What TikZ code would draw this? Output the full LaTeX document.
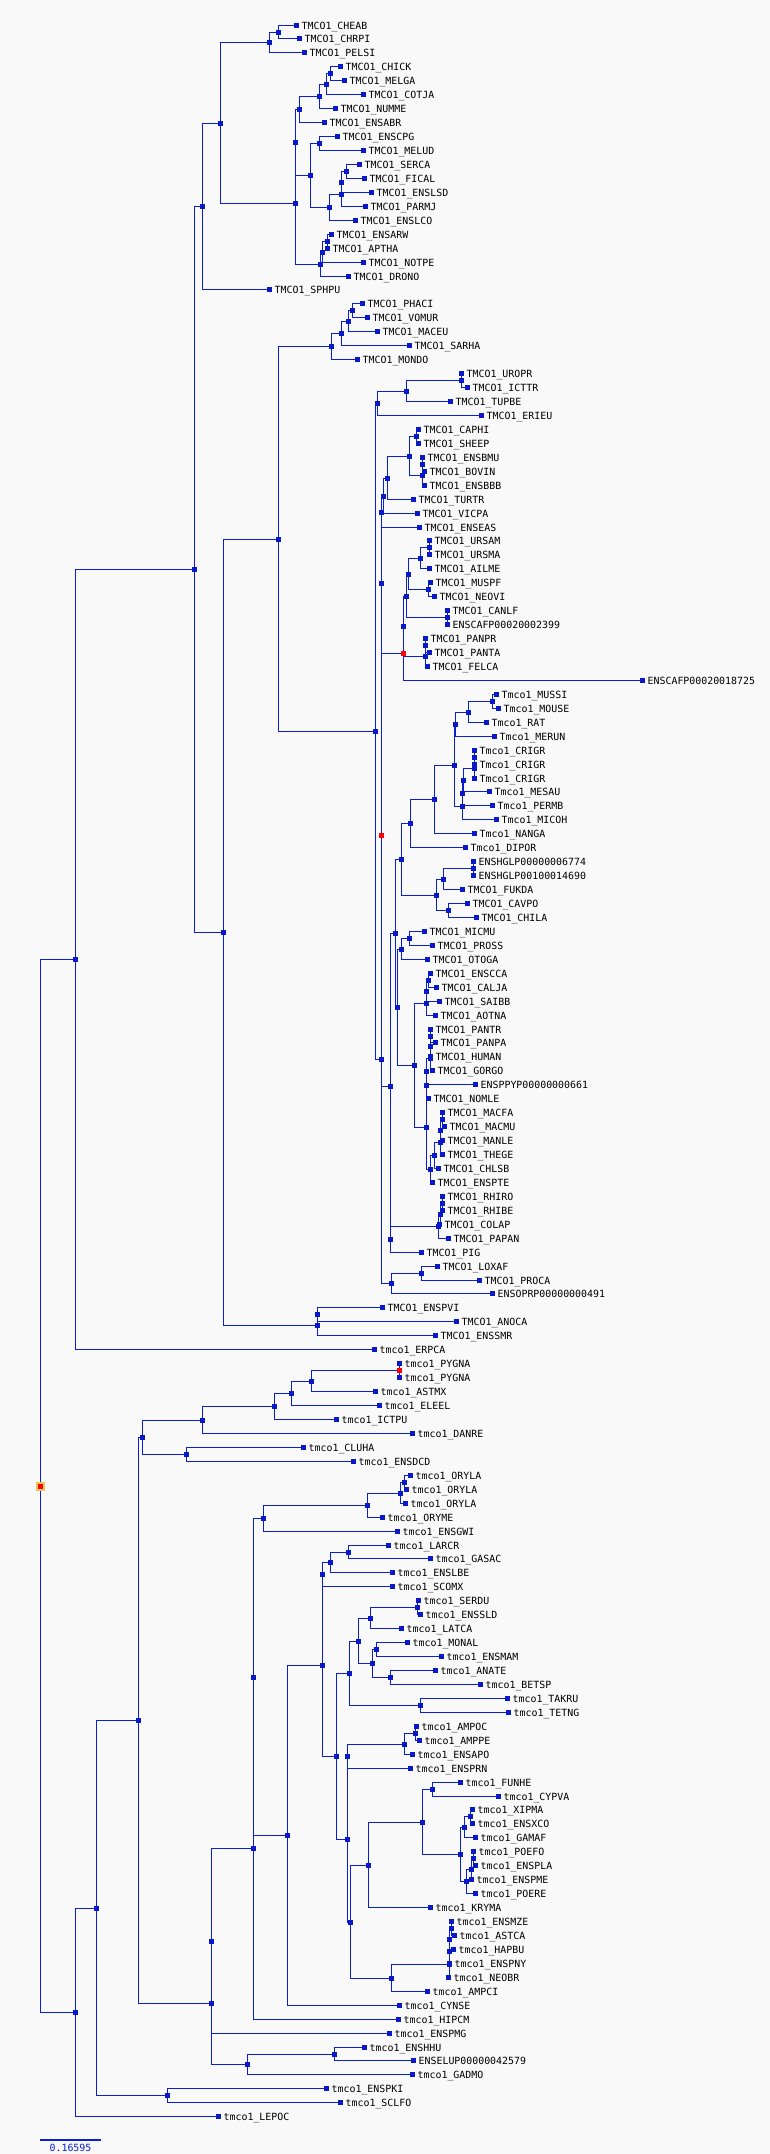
\documentclass[tikz,border=0pt]{standalone}
\usepackage{fontspec}
\newfontfamily\labfont{DejaVu Sans Mono}
\usetikzlibrary{calc}
\definecolor{bg}{RGB}{249,249,249}
\definecolor{edgec}{RGB}{10,30,210}
\definecolor{sqc}{RGB}{10,25,200}
\definecolor{rootedge}{RGB}{238,198,90}
\tikzset{
  edge/.style={draw=edgec, line width=1pt},
  sq/.style={rectangle, fill=sqc, draw=none, minimum width=5pt, minimum height=5pt, inner sep=0pt, outer sep=0pt},
  redsq/.style={rectangle, fill=red, draw=none, minimum width=5pt, minimum height=5pt, inner sep=0pt, outer sep=0pt},
  rootsq/.style={rectangle, fill=red, draw=rootedge, line width=2pt, minimum width=7pt, minimum height=7pt, inner sep=0pt, outer sep=0pt},
  lab/.style={anchor=base west, xshift=5pt, yshift=-3.7pt, inner sep=0pt, font=\labfont\fontsize{9.9}{10}\selectfont, text=black}
}
\newcommand\mkleaf[4]{%
  \coordinate (#1) at ({floor(#3)+0.5},{floor(25+(#2-1)*13.945)+0.5});
  \node[lab] at (#1) {#4};
}
\newcommand\mknode[4]{%
  \path let \p1=($(#3)!0.5!(#4)$) in \pgfextra{\pgfmathsetmacro\tmpy{floor(abs(\y1))+0.5}\xdef\gtmpy{\tmpy}};
  \pgfmathsetmacro\tmpx{floor(#2)+0.5}%
  \coordinate (#1) at (\tmpx,\gtmpy);
  \draw[edge] (#1) |- (#3) (#1) |- (#4);
}
\begin{document}
\begin{tikzpicture}[x=1pt,y=-1pt]
\fill[bg] (0,0) rectangle (770,2154);
\useasboundingbox (0,0) rectangle (770,2154);
% leaves
\mkleaf{l1}{1}{296.7}{TMCO1\_CHEAB}
\mkleaf{l2}{2}{299.6}{TMCO1\_CHRPI}
\mkleaf{l3}{3}{304.5}{TMCO1\_PELSI}
\mkleaf{l4}{4}{340.4}{TMCO1\_CHICK}
\mkleaf{l5}{5}{344.3}{TMCO1\_MELGA}
\mkleaf{l6}{6}{363.4}{TMCO1\_COTJA}
\mkleaf{l7}{7}{335.5}{TMCO1\_NUMME}
\mkleaf{l8}{8}{324.2}{TMCO1\_ENSABR}
\mkleaf{l9}{9}{337.4}{TMCO1\_ENSCPG}
\mkleaf{l10}{10}{363.9}{TMCO1\_MELUD}
\mkleaf{l11}{11}{359.5}{TMCO1\_SERCA}
\mkleaf{l12}{12}{364.4}{TMCO1\_FICAL}
\mkleaf{l13}{13}{371.8}{TMCO1\_ENSLSD}
\mkleaf{l14}{14}{365.9}{TMCO1\_PARMJ}
\mkleaf{l15}{15}{355.6}{TMCO1\_ENSLCO}
\mkleaf{l16}{16}{331.5}{TMCO1\_ENSARW}
\mkleaf{l17}{17}{327.6}{TMCO1\_APTHA}
\mkleaf{l18}{18}{363.4}{TMCO1\_NOTPE}
\mkleaf{l19}{19}{348.7}{TMCO1\_DRONO}
\mkleaf{l20}{20}{269.2}{TMCO1\_SPHPU}
\mkleaf{l21}{21}{362.5}{TMCO1\_PHACI}
\mkleaf{l22}{22}{367.4}{TMCO1\_VOMUR}
\mkleaf{l23}{23}{377.2}{TMCO1\_MACEU}
\mkleaf{l24}{24}{409.6}{TMCO1\_SARHA}
\mkleaf{l25}{25}{357.1}{TMCO1\_MONDO}
\mkleaf{l26}{26}{461.7}{TMCO1\_UROPR}
\mkleaf{l27}{27}{467.6}{TMCO1\_ICTTR}
\mkleaf{l28}{28}{450.4}{TMCO1\_TUPBE}
\mkleaf{l29}{29}{481.3}{TMCO1\_ERIEU}
\mkleaf{l30}{30}{418.5}{TMCO1\_CAPHI}
\mkleaf{l31}{31}{418.5}{TMCO1\_SHEEP}
\mkleaf{l32}{32}{422.4}{TMCO1\_ENSBMU}
\mkleaf{l33}{33}{424.9}{TMCO1\_BOVIN}
\mkleaf{l34}{34}{424.9}{TMCO1\_ENSBBB}
\mkleaf{l35}{35}{413.6}{TMCO1\_TURTR}
\mkleaf{l36}{36}{417.5}{TMCO1\_VICPA}
\mkleaf{l37}{37}{419.0}{TMCO1\_ENSEAS}
\mkleaf{l38}{38}{429.8}{TMCO1\_URSAM}
\mkleaf{l39}{39}{429.8}{TMCO1\_URSMA}
\mkleaf{l40}{40}{429.8}{TMCO1\_AILME}
\mkleaf{l41}{41}{430.7}{TMCO1\_MUSPF}
\mkleaf{l42}{42}{434.2}{TMCO1\_NEOVI}
\mkleaf{l43}{43}{447.0}{TMCO1\_CANLF}
\mkleaf{l44}{44}{447.0}{ENSCAFP00020002399}
\mkleaf{l45}{45}{425.3}{TMCO1\_PANPR}
\mkleaf{l46}{46}{429.8}{TMCO1\_PANTA}
\mkleaf{l47}{47}{427.3}{TMCO1\_FELCA}
\mkleaf{l48}{48}{642.4}{ENSCAFP00020018725}
\mkleaf{l49}{49}{496.0}{Tmco1\_MUSSI}
\mkleaf{l50}{50}{498.5}{Tmco1\_MOUSE}
\mkleaf{l51}{51}{486.2}{Tmco1\_RAT}
\mkleaf{l52}{52}{494.6}{Tmco1\_MERUN}
\mkleaf{l53}{53}{474.0}{Tmco1\_CRIGR}
\mkleaf{l54}{54}{474.5}{Tmco1\_CRIGR}
\mkleaf{l55}{55}{474.0}{Tmco1\_CRIGR}
\mkleaf{l56}{56}{489.7}{Tmco1\_MESAU}
\mkleaf{l57}{57}{492.6}{Tmco1\_PERMB}
\mkleaf{l58}{58}{496.6}{Tmco1\_MICOH}
\mkleaf{l59}{59}{474.0}{Tmco1\_NANGA}
\mkleaf{l60}{60}{465.6}{Tmco1\_DIPOR}
\mkleaf{l61}{61}{473.5}{ENSHGLP00000006774}
\mkleaf{l62}{62}{473.5}{ENSHGLP00100014690}
\mkleaf{l63}{63}{462.2}{TMCO1\_FUKDA}
\mkleaf{l64}{64}{467.1}{TMCO1\_CAVPO}
\mkleaf{l65}{65}{476.0}{TMCO1\_CHILA}
\mkleaf{l66}{66}{424.4}{TMCO1\_MICMU}
\mkleaf{l67}{67}{432.2}{TMCO1\_PROSS}
\mkleaf{l68}{68}{427.3}{TMCO1\_OTOGA}
\mkleaf{l69}{69}{430.7}{TMCO1\_ENSCCA}
\mkleaf{l70}{70}{436.6}{TMCO1\_CALJA}
\mkleaf{l71}{71}{439.6}{TMCO1\_SAIBB}
\mkleaf{l72}{72}{435.7}{TMCO1\_AOTNA}
\mkleaf{l73}{73}{430.7}{TMCO1\_PANTR}
\mkleaf{l74}{74}{435.2}{TMCO1\_PANPA}
\mkleaf{l75}{75}{430.7}{TMCO1\_HUMAN}
\mkleaf{l76}{76}{432.2}{TMCO1\_GORGO}
\mkleaf{l77}{77}{475.0}{ENSPPYP00000000661}
\mkleaf{l78}{78}{428.3}{TMCO1\_NOMLE}
\mkleaf{l79}{79}{442.0}{TMCO1\_MACFA}
\mkleaf{l80}{80}{444.5}{TMCO1\_MACMU}
\mkleaf{l81}{81}{442.0}{TMCO1\_MANLE}
\mkleaf{l82}{82}{442.0}{TMCO1\_THEGE}
\mkleaf{l83}{83}{438.1}{TMCO1\_CHLSB}
\mkleaf{l84}{84}{432.2}{TMCO1\_ENSPTE}
\mkleaf{l85}{85}{442.5}{TMCO1\_RHIRO}
\mkleaf{l86}{86}{442.5}{TMCO1\_RHIBE}
\mkleaf{l87}{87}{439.6}{TMCO1\_COLAP}
\mkleaf{l88}{88}{448.0}{TMCO1\_PAPAN}
\mkleaf{l89}{89}{421.4}{TMCO1\_PIG}
\mkleaf{l90}{90}{437.1}{TMCO1\_LOXAF}
\mkleaf{l91}{91}{479.4}{TMCO1\_PROCA}
\mkleaf{l92}{92}{492.6}{ENSOPRP00000000491}
\mkleaf{l93}{93}{382.6}{TMCO1\_ENSPVI}
\mkleaf{l94}{94}{456.8}{TMCO1\_ANOCA}
\mkleaf{l95}{95}{435.7}{TMCO1\_ENSSMR}
\mkleaf{l96}{96}{374.3}{tmco1\_ERPCA}
\mkleaf{l97}{97}{399.3}{tmco1\_PYGNA}
\mkleaf{l98}{98}{399.3}{tmco1\_PYGNA}
\mkleaf{l99}{99}{375.7}{tmco1\_ASTMX}
\mkleaf{l100}{100}{379.7}{tmco1\_ELEEL}
\mkleaf{l101}{101}{336.4}{tmco1\_ICTPU}
\mkleaf{l102}{102}{412.6}{tmco1\_DANRE}
\mkleaf{l103}{103}{303.5}{tmco1\_CLUHA}
\mkleaf{l104}{104}{353.6}{tmco1\_ENSDCD}
\mkleaf{l105}{105}{410.6}{tmco1\_ORYLA}
\mkleaf{l106}{106}{406.7}{tmco1\_ORYLA}
\mkleaf{l107}{107}{405.2}{tmco1\_ORYLA}
\mkleaf{l108}{108}{382.6}{tmco1\_ORYME}
\mkleaf{l109}{109}{397.3}{tmco1\_ENSGWI}
\mkleaf{l110}{110}{388.5}{tmco1\_LARCR}
\mkleaf{l111}{111}{430.7}{tmco1\_GASAC}
\mkleaf{l112}{112}{392.9}{tmco1\_ENSLBE}
\mkleaf{l113}{113}{392.0}{tmco1\_SCOMX}
\mkleaf{l114}{114}{418.5}{tmco1\_SERDU}
\mkleaf{l115}{115}{420.9}{tmco1\_ENSSLD}
\mkleaf{l116}{116}{401.8}{tmco1\_LATCA}
\mkleaf{l117}{117}{407.7}{tmco1\_MONAL}
\mkleaf{l118}{118}{441.5}{tmco1\_ENSMAM}
\mkleaf{l119}{119}{435.7}{tmco1\_ANATE}
\mkleaf{l120}{120}{480.8}{tmco1\_BETSP}
\mkleaf{l121}{121}{507.4}{tmco1\_TAKRU}
\mkleaf{l122}{122}{508.8}{tmco1\_TETNG}
\mkleaf{l123}{123}{416.5}{tmco1\_AMPOC}
\mkleaf{l124}{124}{419.0}{tmco1\_AMPPE}
\mkleaf{l125}{125}{412.6}{tmco1\_ENSAPO}
\mkleaf{l126}{126}{410.6}{tmco1\_ENSPRN}
\mkleaf{l127}{127}{460.7}{tmco1\_FUNHE}
\mkleaf{l128}{128}{498.0}{tmco1\_CYPVA}
\mkleaf{l129}{129}{472.5}{tmco1\_XIPMA}
\mkleaf{l130}{130}{472.5}{tmco1\_ENSXCO}
\mkleaf{l131}{131}{475.4}{tmco1\_GAMAF}
\mkleaf{l132}{132}{473.5}{tmco1\_POEFO}
\mkleaf{l133}{133}{475.4}{tmco1\_ENSPLA}
\mkleaf{l134}{134}{471.5}{tmco1\_ENSPME}
\mkleaf{l135}{135}{475.4}{tmco1\_POERE}
\mkleaf{l136}{136}{430.7}{tmco1\_KRYMA}
\mkleaf{l137}{137}{451.4}{tmco1\_ENSMZE}
\mkleaf{l138}{138}{454.3}{tmco1\_ASTCA}
\mkleaf{l139}{139}{453.3}{tmco1\_HAPBU}
\mkleaf{l140}{140}{449.4}{tmco1\_ENSPNY}
\mkleaf{l141}{141}{448.4}{tmco1\_NEOBR}
\mkleaf{l142}{142}{427.8}{tmco1\_AMPCI}
\mkleaf{l143}{143}{399.3}{tmco1\_CYNSE}
\mkleaf{l144}{144}{398.3}{tmco1\_HIPCM}
\mkleaf{l145}{145}{389.5}{tmco1\_ENSPMG}
\mkleaf{l146}{146}{364.4}{tmco1\_ENSHHU}
\mkleaf{l147}{147}{413.6}{ENSELUP00000042579}
\mkleaf{l148}{148}{412.6}{tmco1\_GADMO}
\mkleaf{l149}{149}{326.6}{tmco1\_ENSPKI}
\mkleaf{l150}{150}{340.4}{tmco1\_SCLFO}
\mkleaf{l151}{151}{218.1}{tmco1\_LEPOC}
% internal nodes: birds
\mknode{n1}{278.5}{l1}{l2}
\mknode{n2}{269.2}{n1}{l3}
\mknode{n3}{330.0}{l4}{l5}
\mknode{n4}{326.6}{n3}{l6}
\mknode{n5}{319.7}{n4}{l7}
\mknode{n6}{299.6}{n5}{l8}
\mknode{n7}{319.7}{l9}{l10}
\mknode{n8}{346.8}{l11}{l12}
\mknode{n9}{341.3}{n8}{l13}
\mknode{n10}{341.3}{n9}{l14}
\mknode{n11}{329.1}{n10}{l15}
\mknode{n12}{310.9}{n7}{n11}
\mknode{n13}{295.2}{n6}{n12}
\mknode{n14}{327.6}{l16}{l17}
\mknode{n15}{322.7}{n14}{l18}
\mknode{n16}{320.2}{n15}{l19}
\mknode{n17}{295.2}{n13}{n16}
\mknode{n18}{220.5}{n2}{n17}
\mknode{n19}{202.4}{n18}{l20}
% marsupials
\mknode{n20}{352.2}{l21}{l22}
\mknode{n21}{348.2}{n20}{l23}
\mknode{n22}{341.3}{n21}{l24}
\mknode{n23}{331.5}{n22}{l25}
% placentals
\mknode{n24}{461.7}{l26}{l27}
\mknode{n25}{406.7}{n24}{l28}
\mknode{n26}{377.2}{n25}{l29}
\mknode{n27}{416.5}{l30}{l31}
\mknode{n28}{422.4}{l32}{l33}
\mknode{n29}{422.4}{n28}{l34}
\mknode{n30}{409.6}{n27}{n29}
\mknode{n31}{387.5}{n30}{l35}
\mknode{n32}{383.6}{n31}{l36}
\mknode{n33}{381.6}{n32}{l37}
\mknode{n34}{429.8}{l38}{l39}
\mknode{n35}{420.9}{n34}{l40}
\mknode{n36}{428.3}{l41}{l42}
\mknode{n37}{408.6}{n35}{n36}
\mknode{n38}{447.0}{l43}{l44}
\mknode{n39}{406.2}{n37}{n38}
\mknode{n40}{425.3}{l45}{l46}
\mknode{n41}{425.3}{n40}{l47}
\mknode{n42}{403.7}{n39}{n41}
\mknode{n43}{403.7}{n42}{l48}
\mknode{n44}{381.6}{n33}{n43}
% rodents
\mknode{n45}{492.6}{l49}{l50}
\mknode{n46}{468.1}{n45}{l51}
\mknode{n47}{455.3}{n46}{l52}
\mknode{n48}{474.0}{l53}{l54}
\mknode{n49}{474.0}{n48}{l55}
\mknode{n50}{463.7}{n49}{l56}
\mknode{n51}{462.7}{n50}{l57}
\mknode{n52}{462.7}{n51}{l58}
\mknode{n53}{454.3}{n47}{n52}
\mknode{n54}{434.7}{n53}{l59}
\mknode{n55}{410.6}{n54}{l60}
\mknode{n56}{473.5}{l61}{l62}
\mknode{n57}{443.5}{n56}{l63}
\mknode{n58}{448.4}{l64}{l65}
\mknode{n59}{436.6}{n57}{n58}
\mknode{n60}{401.8}{n55}{n59}
% primates
\mknode{n61}{409.1}{l66}{l67}
\mknode{n62}{401.3}{n61}{l68}
\mknode{n63}{428.3}{l69}{l70}
\mknode{n64}{426.3}{n63}{l71}
\mknode{n65}{426.3}{n64}{l72}
\mknode{n66}{430.7}{l73}{l74}
\mknode{n67}{430.7}{n66}{l75}
\mknode{n68}{430.7}{n67}{l76}
\mknode{n69}{426.3}{n68}{l77}
\mknode{n70}{426.3}{n69}{l78}
\mknode{n71}{442.0}{l79}{l80}
\mknode{n72}{440.1}{n71}{l81}
\mknode{n73}{440.6}{n72}{l82}
\mknode{n74}{434.2}{n73}{l83}
\mknode{n75}{430.3}{n74}{l84}
\mknode{n76}{426.3}{n70}{n75}
\mknode{n77}{414.0}{n65}{n76}
\mknode{n78}{397.8}{n62}{n77}
\mknode{n79}{395.9}{n60}{n78}
\mknode{n80}{442.5}{l85}{l86}
\mknode{n81}{440.6}{n80}{l87}
\mknode{n82}{438.6}{n81}{l88}
\mknode{n83}{390.0}{n82}{l89}
\mknode{n84}{390.0}{n79}{n83}
\mknode{n85}{381.6}{n44}{n84}
\mknode{n86}{421.4}{l90}{l91}
\mknode{n87}{391.5}{n86}{l92}
\mknode{n88}{381.6}{n85}{n87}
\mknode{n89}{375.7}{n26}{n88}
\mknode{n90}{278.0}{n23}{n89}
\mknode{n91}{317.8}{l93}{l94}
\mknode{n92}{317.8}{n91}{l95}
\mknode{n93}{223.5}{n90}{n92}
\mknode{n94}{194.5}{n19}{n93}
\mknode{n95}{75.6}{n94}{l96}
% fish
\mknode{n96}{399.3}{l97}{l98}
\mknode{n97}{311.4}{n96}{l99}
\mknode{n98}{291.7}{n97}{l100}
\mknode{n99}{274.1}{n98}{l101}
\mknode{n100}{202.4}{n99}{l102}
\mknode{n101}{186.6}{l103}{l104}
\mknode{n102}{142.4}{n100}{n101}
\mknode{n103}{404.7}{l105}{l106}
\mknode{n104}{400.8}{n103}{l107}
\mknode{n105}{367.4}{n104}{l108}
\mknode{n106}{263.8}{n105}{l109}
\mknode{n107}{348.7}{l110}{l111}
\mknode{n108}{330.6}{n107}{l112}
\mknode{n109}{322.7}{n108}{l113}
\mknode{n110}{417.5}{l114}{l115}
\mknode{n111}{370.8}{n110}{l116}
\mknode{n112}{376.7}{l117}{l118}
\mknode{n113}{390.5}{l119}{l120}
\mknode{n114}{372.3}{n112}{n113}
\mknode{n115}{358.5}{n111}{n114}
\mknode{n116}{420.4}{l121}{l122}
\mknode{n117}{349.7}{n115}{n116}
\mknode{n118}{415.5}{l123}{l124}
\mknode{n119}{404.7}{n118}{l125}
\mknode{n120}{347.7}{n119}{l126}
\mknode{n121}{432.7}{l127}{l128}
\mknode{n122}{470.5}{l129}{l130}
\mknode{n123}{464.6}{n122}{l131}
\mknode{n124}{473.5}{l132}{l133}
\mknode{n125}{471.5}{n124}{l134}
\mknode{n126}{466.6}{n125}{l135}
\mknode{n127}{460.7}{n123}{n126}
\mknode{n128}{422.4}{n121}{n127}
\mknode{n129}{368.4}{n128}{l136}
\mknode{n130}{451.4}{l137}{l138}
\mknode{n131}{449.4}{n130}{l139}
\mknode{n132}{449.4}{n131}{l140}
\mknode{n133}{449.4}{n132}{l141}
\mknode{n134}{391.5}{n133}{l142}
\mknode{n135}{350.2}{n129}{n134}
\mknode{n136}{347.7}{n120}{n135}
\mknode{n137}{336.4}{n117}{n136}
\mknode{n138}{322.7}{n109}{n137}
\mknode{n139}{287.3}{n138}{l143}
\mknode{n140}{253.4}{n106}{n139}
\mknode{n141}{253.4}{n140}{l144}
\mknode{n142}{211.7}{n141}{l145}
\mknode{n143}{334.5}{l146}{l147}
\mknode{n144}{247.5}{n143}{l148}
\mknode{n145}{211.7}{n142}{n144}
\mknode{n146}{138.5}{n102}{n145}
\mknode{n147}{167.5}{l149}{l150}
\mknode{n148}{96.3}{n146}{n147}
\mknode{n149}{75.6}{n148}{l151}
\mknode{root}{40.3}{n95}{n149}
% node markers, drawn on top of the edges
\foreach \i in {1,...,151} {\node[sq] at (l\i) {};}
\foreach \i in {1,...,149} {\node[sq] at (n\i) {};}
\node[redsq] at (n43) {};
\node[redsq] at (n85) {};
\node[redsq] at (n96) {};
\node[rootsq] at (root) {};
% scale bar
\coordinate (sb1) at (40,2140);
\coordinate (sb2) at (101,2140);
\draw[draw=edgec, line width=2pt] (sb1) -- (sb2);
\node[font=\labfont\fontsize{9.9}{10}\selectfont, text=edgec, anchor=base, inner sep=0pt] (sblab) at (70.5,2151) {0.16595};
\end{tikzpicture}
\end{document}
